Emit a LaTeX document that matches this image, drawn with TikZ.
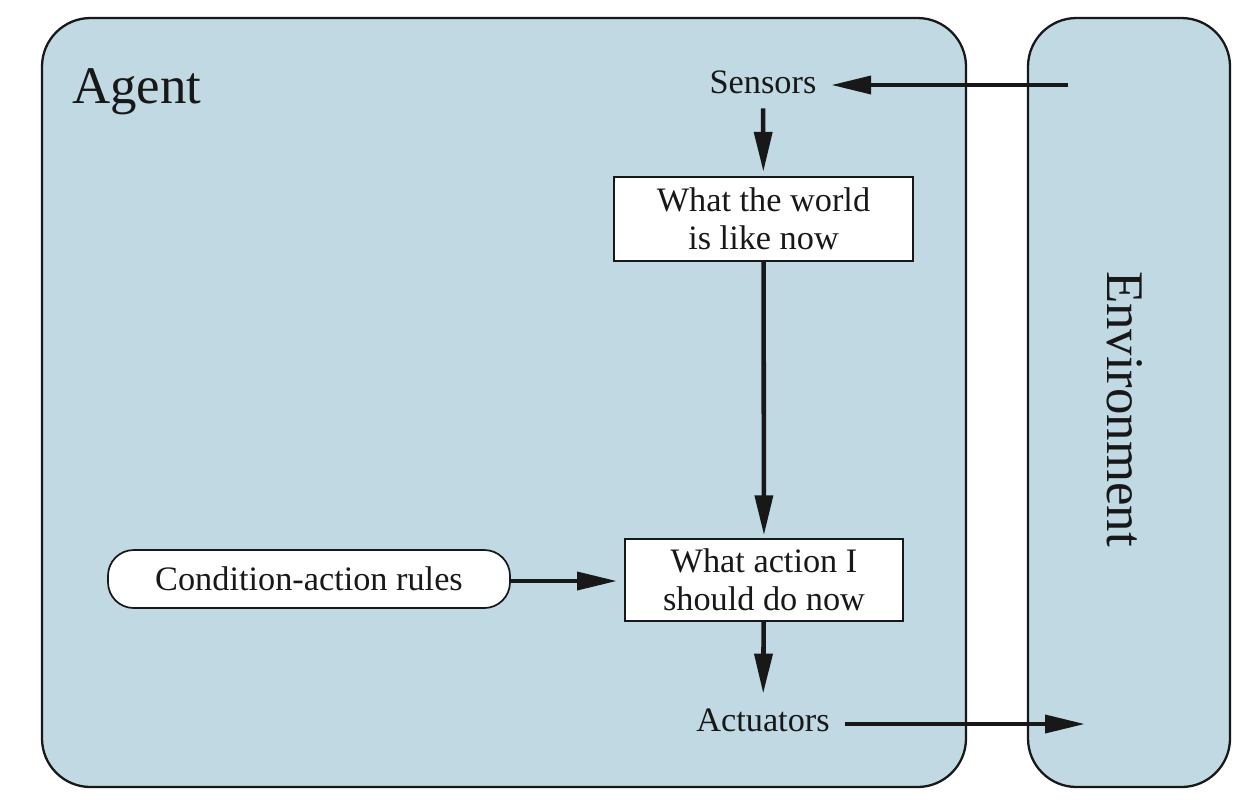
\documentclass[tikz,border=0pt]{standalone}
\usepackage{fontspec}
\setmainfont{Liberation Serif}
\usetikzlibrary{arrows.meta}

\definecolor{panelblue}{RGB}{192,217,226}
\definecolor{inkblack}{RGB}{24,24,24}

\tikzset{
  panel/.style={draw=inkblack, line width=0.8pt, fill=panelblue, rounded corners=17pt},
  statebox/.style={draw=inkblack, line width=0.6pt, fill=white, align=center,
    inner sep=0pt, font=\fontsize{12}{13.4}\selectfont},
  rulebox/.style={draw=inkblack, line width=0.6pt, fill=white, rounded corners=9pt,
    inner sep=0pt, minimum width=140.7pt, minimum height=20.3pt,
    font=\fontsize{12}{14}\selectfont},
  label/.style={inner sep=5pt, font=\fontsize{12}{14}\selectfont},
  bigtitle/.style={font=\fontsize{18.5}{22}\selectfont},
  flow/.style={draw=inkblack, line width=1.6pt, -{Triangle[length=14pt,width=6.2pt]}}
}

\begin{document}
\begin{tikzpicture}[x=0.35pt, y=-0.35pt, inkblack]

    % 1. Frame and panels
    \useasboundingbox (0,0) rectangle (1242,800);
    \draw[panel] (42,18) rectangle (966,787);
    \draw[panel] (1028,18) rectangle (1230,787);

    % 2. Titles
    \node[bigtitle, anchor=west] (agent) at (62,92) {Agent};
    \node[bigtitle, rotate=-90] (env) at (1125,409) {Environment};

    % 3. Free ends of the outside arrows
    \coordinate (envOut) at (1068,85);
    \coordinate (envIn) at (1085,724);

    % 4. Nodes inside the agent
    \node[label] (sensors) at (763,82) {Sensors};
    \node[statebox, minimum width=104.6pt, minimum height=29.4pt] (world) at (763.5,219)
      {What the world\\is like now};
    \node[statebox, minimum width=97.3pt, minimum height=28.7pt] (action) at (764,580)
      {What action I\\should do now};
    \node[label] (actuators) at (763,720) {Actuators};
    \node[rulebox] (rules) at (309,579) {Condition-action rules};

    % 5. Arrows
    \draw[flow] (envOut) -- (sensors.east |- envOut);
    \draw[flow, shorten >=1.5pt] (sensors) -- (world);
    \draw[flow, shorten >=1pt] (world) -- (action);
    \draw[flow, shorten >=2.5pt] (rules.east |- 0,581) -- (action.west |- 0,581);
    \draw[flow] (action) -- (actuators);
    \draw[flow] (actuators.east |- envIn) -- (envIn);

\end{tikzpicture}
\end{document}
